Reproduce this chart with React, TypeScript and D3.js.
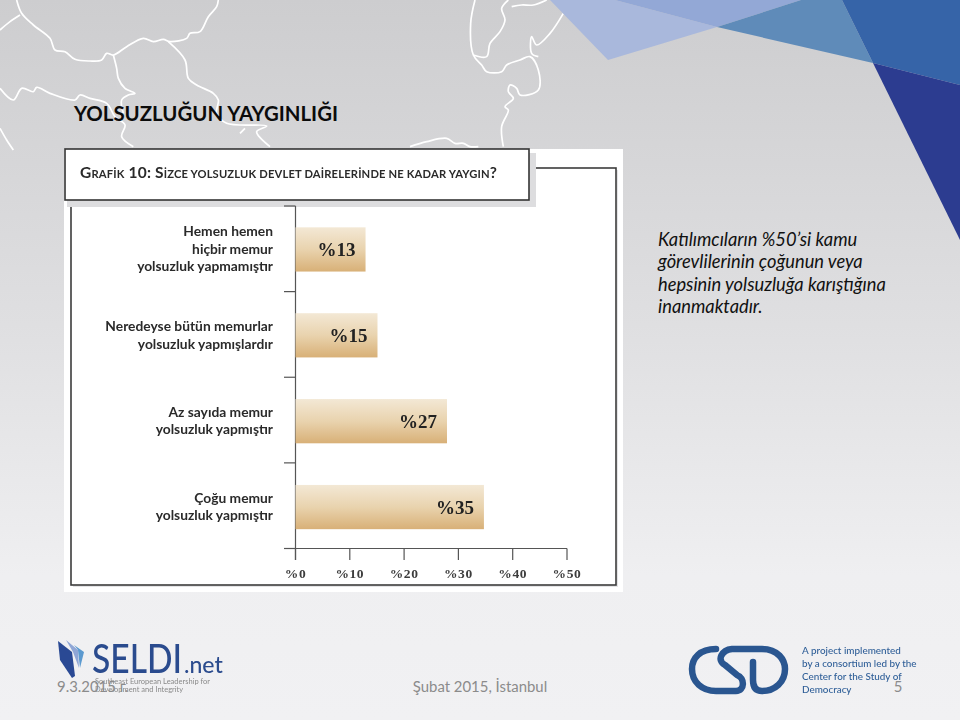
import React from "react";
import * as d3 from "d3";

const categories: string[][] = [
  ["Hemen hemen", "hiçbir memur", "yolsuzluk yapmamıştır"],
  ["Neredeyse bütün memurlar", "yolsuzluk yapmışlardır"],
  ["Az sayıda memur", "yolsuzluk yapmıştır"],
  ["Çoğu memur", "yolsuzluk yapmıştır"],
];
const categoryKeys = ["a", "b", "c", "d"];
const barLengths = [12.9, 15.1, 27.9, 34.7];
const barLabels = ["%13", "%15", "%27", "%35"];
const tickValues = [0, 10, 20, 30, 40, 50];
const noteLines = [
  "Katılımcıların %50’si kamu",
  "görevlilerinin çoğunun veya",
  "hepsinin yolsuzluğa karıştığına",
  "inanmaktadır.",
];
const csdLines = ["A project implemented", "by a consortium led by the", "Center for the Study of", "Democracy"];

const mapLines: [number, number][][] = [
  [[50,0],[65,40],[100,75],[150,115],[165,150],[195,155],[225,178],[270,183],[305,180],[320,160],[340,165],[380,140],[430,115],[460,125],[490,118],[510,125],[560,115],[570,100],[600,95],[625,50],[650,20],[655,0]],
  [[0,90],[30,65],[60,45]],
  [[340,165],[350,205],[355,235],[375,265],[405,280],[385,285],[365,300],[370,340]],
  [[505,125],[555,180],[565,235],[590,255],[640,280],[655,300],[650,340],[680,370],[800,378],[770,395],[810,440]],
  [[0,265],[40,300],[65,265],[100,275],[110,262],[150,280],[225,300],[240,285],[270,295],[320,310],[345,350],[375,375],[365,410],[400,440]],
  [[0,385],[20,420],[40,450]],
  [[720,400],[735,385]],
  [[1425,0],[1412,70],[1420,165],[1445,195],[1460,215],[1505,215],[1520,195],[1560,180],[1590,170],[1615,210],[1615,270],[1560,285],[1550,265],[1530,255],[1525,275],[1540,295],[1515,320],[1525,330],[1505,380],[1510,440]],
  [[1420,165],[1460,170],[1470,130],[1500,95],[1515,60],[1505,25],[1525,0]],
  [[1535,20],[1565,15],[1600,15],[1640,0]],
  [[1690,40],[1650,100],[1610,135],[1595,110],[1595,160],[1615,170]],
  [[1230,440],[1280,425],[1340,415],[1365,430],[1390,430],[1410,440],[1435,440]],
];

const line = d3.line<[number, number]>().x(d => d[0] / 3).y(d => d[1] / 3).curve(d3.curveCatmullRom);

const x = d3.scaleLinear().domain([0, 50]).range([295.5, 567]);
const y = d3.scaleBand<string>().domain(categoryKeys).range([206.5, 550]).paddingInner(0.485).paddingOuter(0.2425);
const tickY = d3.scaleLinear().domain([0, 4]).range([206, 548.5]);

const serif = "'Liberation Serif', serif";
const sans = "Lato, 'Open Sans', sans-serif";

const Caps = ({ t, s }: { t: string; s: string }) => (
  <>
    <tspan fontSize={15.5}>{t}</tspan>
    <tspan fontSize={11.2}>{s}</tspan>
  </>
);

export default function App() {
  return (
    <svg width={960} height={720} style={{ position: "absolute", left: 0, top: 0 }}>
      <defs>
        <linearGradient id="bg" x1="0" y1="0" x2="0" y2="1">
          <stop offset="0" stopColor="#cdcdcf" />
          <stop offset="0.45" stopColor="#dfdfe1" />
          <stop offset="0.8" stopColor="#efeff1" />
          <stop offset="1" stopColor="#f1f1f3" />
        </linearGradient>
        <linearGradient id="bar" x1="0" y1="0" x2="0" y2="1">
          <stop offset="0" stopColor="#f3e8d5" />
          <stop offset="0.5" stopColor="#e9d3ae" />
          <stop offset="1" stopColor="#d8b077" />
        </linearGradient>
        <filter id="soft" x="-5%" y="-5%" width="110%" height="110%">
          <feGaussianBlur stdDeviation="0.45" />
        </filter>
      </defs>
      <rect width={960} height={720} fill="url(#bg)" />

      <g fill="none" stroke="#ffffff" strokeWidth={1.7} strokeLinejoin="round">
        {mapLines.map((m, i) => <path key={i} d={line(m) ?? ""} />)}
      </g>

      <polygon points="550,0 608,60 717,27 615,0" fill="#a9b8dc" />
      <polygon points="615,0 717,27 801,0" fill="#93a8d6" />
      <polygon points="717,27 873,63 842,0 801,0" fill="#5f8bb9" />
      <polygon points="842,0 960,0 960,85 873,63" fill="#3664a8" />
      <polygon points="873,63 960,85 960,240" fill="#2c3c90" />

      <text x={74} y={121} fontFamily={sans} fontWeight={700} fontSize={20} fill="#0b0b0b" textLength={264} lengthAdjust="spacingAndGlyphs">YOLSUZLUĞUN YAYGINLIĞI</text>

      <g filter="url(#soft)">
        <rect x={64} y={149} width={559} height={443} fill="#ffffff" />
        <rect x={73} y={170} width={545} height={417} fill="#e4e4e6" />
        <rect x={71} y={168} width={545} height={417} fill="#ffffff" stroke="#3c3c3c" strokeWidth={1.6} />
        <rect x={67} y={153} width={469} height={54} fill="#dddddf" />
        <rect x={65} y={149} width={464} height={51} fill="#ffffff" stroke="#333333" strokeWidth={1.6} />
        <text x={80} y={178} fontFamily={sans} fontWeight={700} fill="#2a2a2a" textLength={417} lengthAdjust="spacing">
          <Caps t="G" s="RAFİK" /> <tspan fontSize={15.5}>10: </tspan><Caps t="S" s="İZCE YOLSUZLUK DEVLET DAİRELERİNDE NE KADAR YAYGIN" /><tspan fontSize={15.5}>?</tspan>
        </text>

        <line x1={x(0)} x2={x(0)} y1={206} y2={560} stroke="#555" strokeWidth={1.2} />
        {[0, 1, 2, 3, 4].map(i => (
          <line key={i} x1={284} x2={x(0)} y1={tickY(i)} y2={tickY(i)} stroke="#555" strokeWidth={1.2} />
        ))}
        <line x1={284} x2={x(50)} y1={tickY(4)} y2={tickY(4)} stroke="#555" strokeWidth={1.2} />
        {tickValues.map(t => (
          <g key={t}>
            <line x1={x(t)} x2={x(t)} y1={tickY(4)} y2={560} stroke="#555" strokeWidth={1.2} />
            <text x={x(t)} y={577.5} textAnchor="middle" fontFamily={serif} fontWeight={700} fontSize={13.5} fill="#3c3c3c" letterSpacing={0.6}>%{t}</text>
          </g>
        ))}

        {categoryKeys.map((k, i) => {
          const top = y(k) as number;
          const h = y.bandwidth();
          const w = x(barLengths[i]) - x(0);
          const lines = categories[i];
          const mid = top + h / 2;
          return (
            <g key={k}>
              <rect x={x(0)} y={top} width={w} height={h} fill="url(#bar)" />
              <text x={x(barLengths[i]) - 10} y={mid + 6.5} textAnchor="end" fontFamily={serif} fontWeight={700} fontSize={19} fill="#222">{barLabels[i]}</text>
              {lines.map((l, j) => (
                <text key={j} x={273} y={mid + 4.5 + (j - (lines.length - 1) / 2) * 17.5} textAnchor="end" fontFamily={sans} fontWeight={700} fontSize={13.8} fill="#2a2a2a">{l}</text>
              ))}
            </g>
          );
        })}
      </g>

      <g fontFamily={sans} fontStyle="italic" fontSize={18.3} fill="#111">
        {noteLines.map((l, i) => <text key={i} x={658} y={246 + i * 22.4}>{l}</text>)}
      </g>

      <g filter="url(#soft)">
        <polygon points="58,641 72,652 75,676 72,678 60,660" fill="#2a4a94" />
        <polygon points="66,640 78,650 79,668 73,652" fill="#8fa6d6" />
        <polygon points="74,645 84,652 80,668 78,650" fill="#5b9ad0" />
        <text x={92} y={673} fontFamily={sans} fontSize={41} fontWeight={500} fill="#2c4c8e" textLength={90} lengthAdjust="spacingAndGlyphs">SELDI</text>
        <text x={184} y={673} fontFamily={sans} fontSize={23} fontWeight={500} fill="#2c4c8e">.net</text>
        <text x={95} y={684} fontFamily={sans} fontSize={7.5} fill="#8a8a8a">Southeast European Leadership for</text>
        <text x={95} y={692} fontFamily={sans} fontSize={7.5} fill="#8a8a8a">Development and Integrity</text>

        <path d="M716,649 C700,649 692,658 692,669 C692,682 702,691 716,691 L736,691 C745,691 745,678 737,675 L725,665 C716,660 722,650 732,649 L762,649 C778,649 785,660 785,669 C785,682 775,691 762,691 C755,691 753,686 753,680 L753,662" fill="none" stroke="#2a5690" strokeWidth={6.5} strokeLinecap="round" />
        <g fontFamily={sans} fontSize={9.9} fontWeight={500} fill="#2f5f98">
          {csdLines.map((l, i) => <text key={i} x={802} y={654 + i * 13}>{l}</text>)}
        </g>
      </g>

      <g fontFamily={sans} fontSize={14.9} fill="#8b8b8b">
        <text x={57} y={692}>9.3.2015 г.</text>
        <text x={480} y={692} textAnchor="middle">Şubat 2015, İstanbul</text>
        <text x={898} y={692} textAnchor="middle">5</text>
      </g>
    </svg>
  );
}
